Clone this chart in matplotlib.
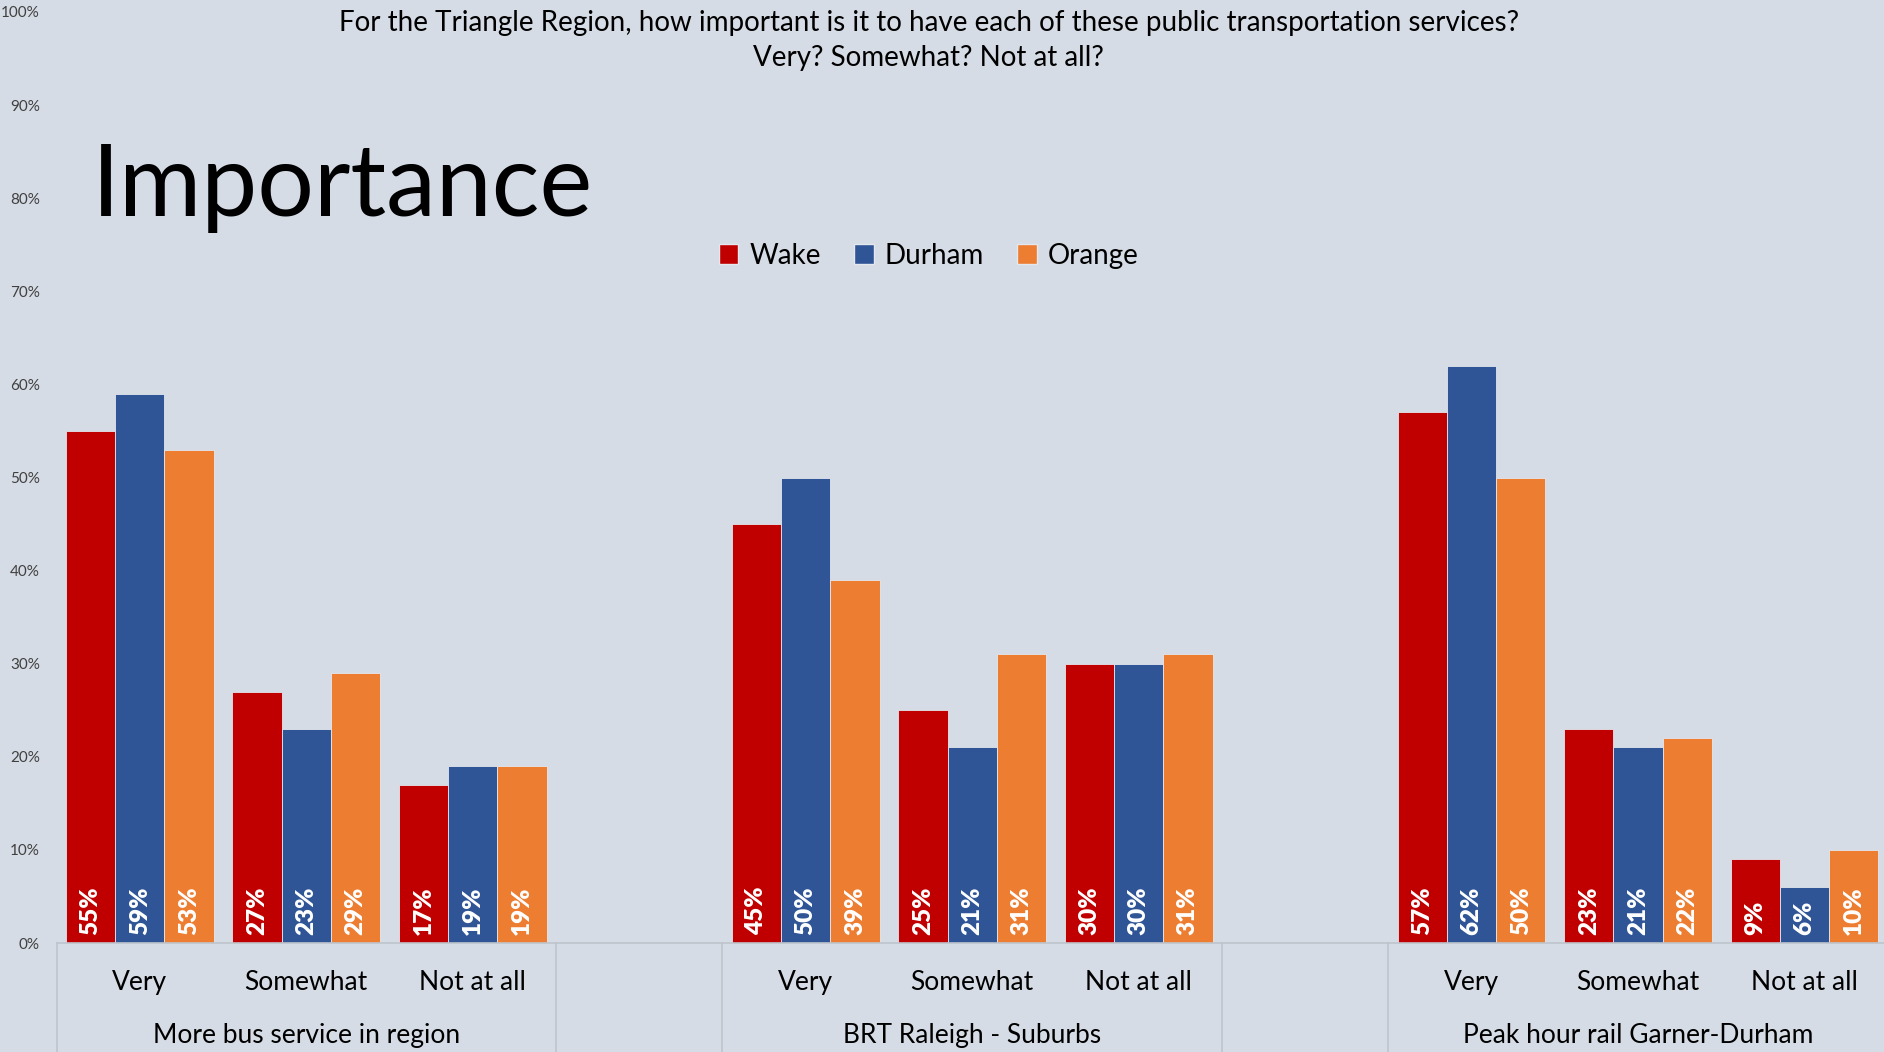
import matplotlib.pyplot as plt
import matplotlib.transforms as mtransforms
from matplotlib.patches import Patch

plt.rcParams['font.family'] = ['Lato', 'DejaVu Sans']

# data
groups = ['More bus service in region', 'BRT Raleigh - Suburbs', 'Peak hour rail Garner-Durham']
responses = ['Very', 'Somewhat', 'Not at all']
counties = ['Wake', 'Durham', 'Orange']
wake = [55, 27, 17, 45, 25, 30, 57, 23, 9]
durham = [59, 23, 19, 50, 21, 30, 62, 21, 6]
orange = [53, 29, 19, 39, 31, 31, 50, 22, 10]
yticks = [0, 10, 20, 30, 40, 50, 60, 70, 80, 90, 100]

colors = ['#C00000', '#2F5597', '#ED7D31']
bg = '#D6DCE5'

# x slot for each bar group: 3 responses per group, one empty slot between groups
xpos = []
for g in range(len(groups)):
    for r in range(len(responses)):
        xpos.append(g * 4 + r)

fig = plt.figure(figsize=(18.84, 10.52), dpi=100, facecolor=bg)
ax = fig.add_axes([0.030, 0.1036, 0.972, 0.885])
ax.set_facecolor(bg)

w = 0.296
for k, (vals, c) in enumerate(zip([wake, durham, orange], colors)):
    xs = [x + (k - 1) * w for x in xpos]
    ax.bar(xs, vals, width=w, color=c, edgecolor='#e4e8ee', linewidth=0.6)
    for x, v in zip(xs, vals):
        ax.text(x, 0.9, f'{v}%', rotation=90, ha='center', va='bottom',
                color='white', fontsize=17.5, fontweight='heavy')

ax.set_xlim(-0.5, 10.5)
ax.set_ylim(0, 100)
ax.set_yticks(yticks)
ax.set_yticklabels([f'{t}%' for t in yticks], fontsize=11, color='#404040')
ax.tick_params(axis='y', length=0, pad=12)
ax.set_xticks([])
for s in ['top', 'right', 'left']:
    ax.spines[s].set_visible(False)
ax.spines['bottom'].set_color('#BFC4CC')
ax.spines['bottom'].set_linewidth(1.2)

# multi-level category axis
trans = mtransforms.blended_transform_factory(ax.transData, fig.transFigure)
for x in [-0.5, 2.5, 3.5, 6.5, 7.5, 10.5]:
    ax.plot([x, x], [0.1036, 0.0], color='#BFC4CC', lw=1.2, transform=trans, clip_on=False)
for g, name in enumerate(groups):
    for r, resp in enumerate(responses):
        ax.text(g * 4 + r, 0.066, resp, transform=trans, ha='center', va='center', fontsize=19)
    ax.text(g * 4 + 1, 0.016, name, transform=trans, ha='center', va='center', fontsize=19)

fig.text(0.493, 0.978, 'For the Triangle Region, how important is it to have each of these public transportation services?',
         ha='center', va='center', fontsize=20)
fig.text(0.493, 0.945, 'Very? Somewhat? Not at all?', ha='center', va='center', fontsize=20)
fig.text(0.049, 0.822, 'Importance', ha='left', va='center', fontsize=72)

handles = [Patch(facecolor=c, edgecolor='#e4e8ee', label=n) for n, c in zip(counties, colors)]
fig.legend(handles=handles, loc='center', bbox_to_anchor=(0.493, 0.757), ncol=3, frameon=False,
           fontsize=20, handlelength=0.7, handleheight=0.7, handletextpad=0.4, columnspacing=1.2)

fig.savefig('out.png', dpi=100, facecolor=bg)
